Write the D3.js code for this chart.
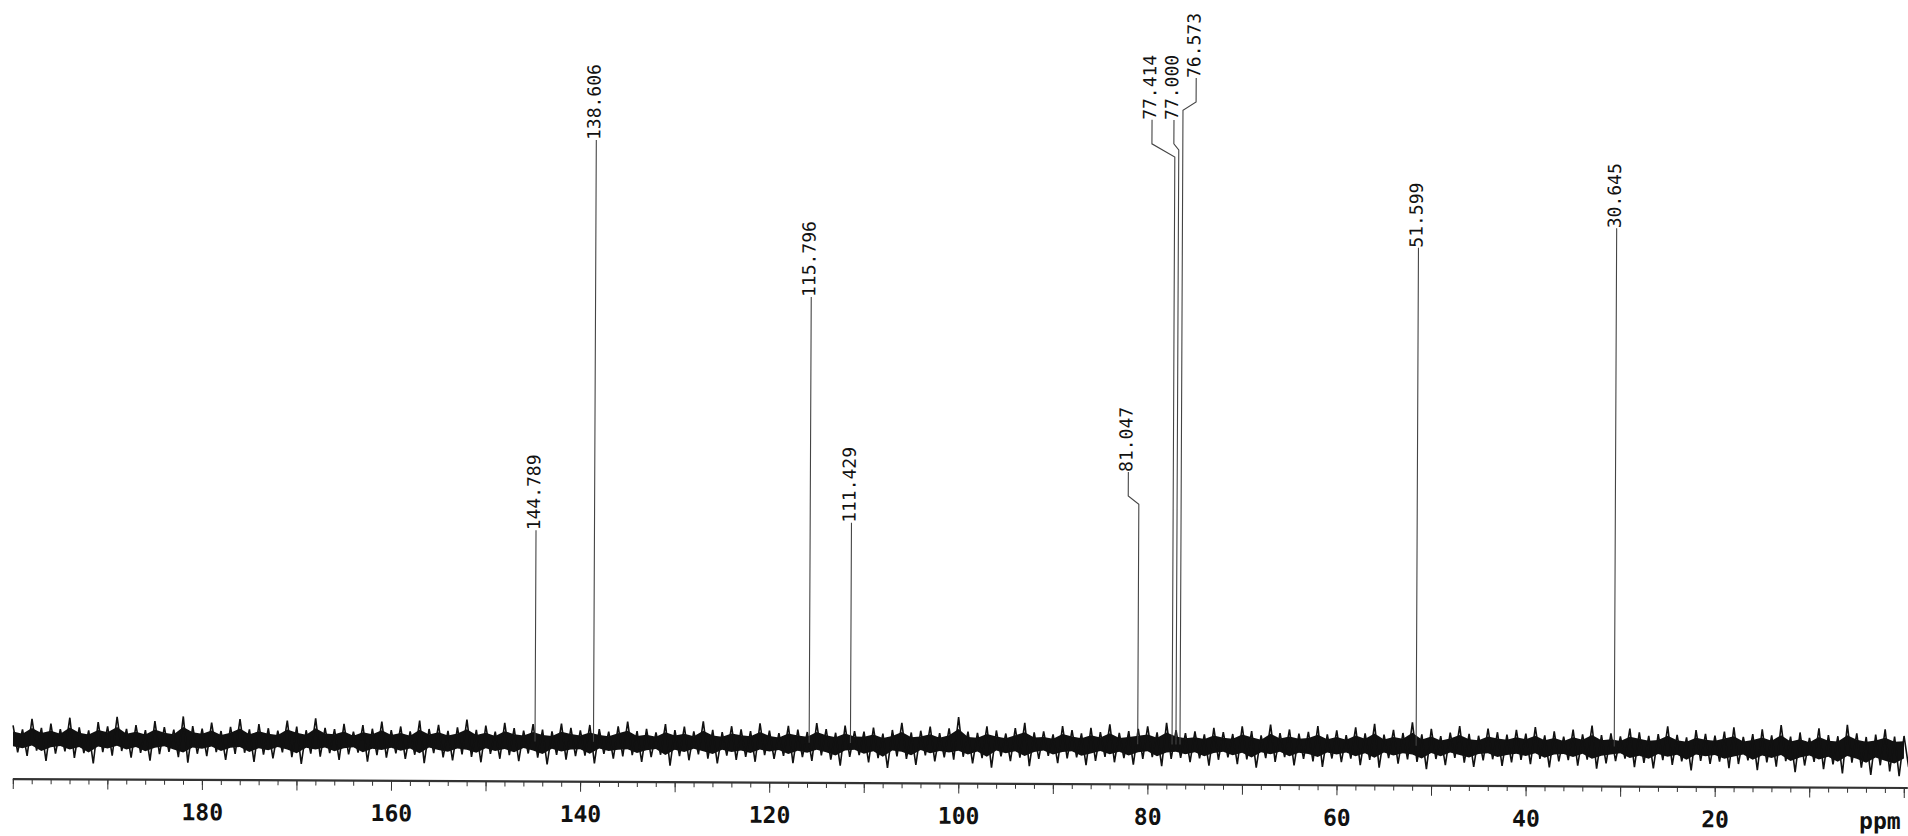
<!DOCTYPE html>
<html>
<head>
<meta charset="utf-8">
<script src="https://cdn.jsdelivr.net/npm/d3@7"></script>
<style>
  body{margin:0;background:#fff;}
  svg{display:block;}
  .peak{fill:none;stroke:#444;stroke-width:1.1;}
  .plabel{font-family:"DejaVu Sans Mono",monospace;font-size:18px;fill:#111;}
  .axis text{font-family:"DejaVu Sans Mono",monospace;font-size:23px;font-weight:bold;fill:#111;}
  .axis path,.axis line{stroke:#333;}
</style>
</head>
<body>
<svg id="chart" width="1908" height="836"></svg>
<script>
// peak list, ppm
let peaks=[144.789,138.606,115.796,111.429,81.047,77.414,77.000,76.573,51.599,30.645];
// peak heights (relative, 138.606 = 100)
let heights=[34.7,100,73.8,36.3,40,97.9,99.1,105.7,82.7,86.3];
// where each label sits (ppm) and its lower end (same relative units)
let labelPpm=[144.789,138.606,115.796,111.429,82.17,79.84,77.52,75.19,51.599,30.645];
let labelBase=[35.2,100.3,74.3,36.7,45.4,104.1,104.1,111.1,83.0,86.4];

let tickLabels=[180,160,140,120,100,80,60,40,20];

// noise envelope, one value per ppm from 200 down to 0
let noiseTop=[
  2.3,1.6,3.4,1.9,2.6,1.7,3.6,2.0,1.5,2.9,2.2,3.8,1.8,2.4,1.6,3.1,2.1,1.7,3.9,2.3,
  1.9,2.9,1.5,2.2,3.5,1.8,2.7,2.0,1.6,3.3,2.3,1.7,3.7,2.1,1.9,2.8,1.5,2.6,2.0,3.2,
  1.8,2.4,1.6,3.4,2.0,2.7,1.7,2.3,3.6,1.9,2.6,1.6,3.1,2.2,1.8,2.9,2.0,1.7,3.0,2.3,
  1.9,2.8,2.1,1.7,2.6,3.4,1.8,2.2,1.6,3.0,2.0,2.6,1.8,3.5,2.1,1.7,2.7,2.2,1.9,3.2,
  2.0,1.6,2.8,2.2,1.8,3.3,2.3,1.7,2.9,2.0,1.9,2.6,1.6,2.2,3.4,1.8,2.1,2.8,1.7,2.5,
  4.4,2.0,1.8,2.9,2.2,1.7,2.6,3.5,1.9,2.1,1.6,3.0,2.3,1.8,2.7,2.0,3.3,1.9,2.2,2.6,
  3.0,2.0,3.6,2.4,1.9,2.2,1.7,2.8,2.1,1.8,3.1,2.3,1.6,3.4,2.0,2.6,1.9,2.2,3.2,1.8,
  2.5,1.7,3.0,2.0,3.6,1.8,2.6,2.1,3.9,1.9,2.8,1.6,2.2,3.3,2.0,1.7,2.9,2.3,1.9,2.7,
  2.1,3.2,1.8,2.5,1.6,2.8,2.0,3.5,1.9,2.2,1.7,3.0,2.4,1.8,2.1,3.4,2.0,1.6,2.8,2.2,
  1.9,2.6,3.3,1.7,2.2,3.0,2.0,3.7,1.8,2.5,1.6,3.2,2.1,1.9,3.8,2.4,1.8,2.2,3.1,1.9,
  2.0];
let noiseBottom=[
  -2.2,-2.8,-1.9,-3.6,-2.4,-2.0,-3.1,-2.3,-4.0,-2.1,-2.7,-1.9,-3.0,-2.2,-3.5,-2.4,-2.0,-2.9,-3.8,-2.3,
  -2.7,-2.0,-3.3,-2.3,-2.1,-3.6,-2.4,-3.0,-2.0,-2.8,-3.9,-2.2,-2.7,-2.1,-3.2,-2.3,-2.0,-3.5,-2.4,-2.8,
  -2.1,-3.0,-2.3,-3.7,-2.0,-2.7,-3.2,-2.2,-2.6,-3.5,-2.1,-2.9,-2.3,-3.3,-2.0,-2.7,-3.8,-2.2,-3.0,-2.4,
  -2.3,-3.6,-2.0,-2.8,-2.4,-2.2,-3.3,-2.5,-2.1,-3.9,-2.3,-3.0,-2.0,-2.7,-3.5,-2.2,-2.9,-2.4,-3.2,-2.1,
  -2.7,-2.2,-3.4,-2.4,-3.0,-2.1,-2.8,-3.8,-2.3,-2.0,-3.2,-2.5,-4.1,-2.2,-2.6,-3.6,-2.0,-3.0,-2.3,-2.7,
  -2.2,-3.3,-2.4,-4.0,-2.1,-2.9,-2.3,-3.7,-2.5,-2.0,-3.2,-2.4,-2.2,-3.5,-2.8,-2.1,-3.0,-2.3,-3.4,-2.4,
  -2.1,-3.6,-2.4,-2.2,-2.9,-2.3,-3.5,-2.5,-2.1,-3.2,-2.4,-3.8,-2.2,-2.8,-2.0,-3.4,-2.3,-2.7,-3.6,-2.2,
  -2.8,-2.2,-3.3,-2.4,-3.7,-2.1,-3.0,-2.3,-2.7,-3.9,-2.2,-3.2,-2.0,-2.8,-3.5,-2.4,-2.2,-3.3,-2.7,-2.3,
  -3.0,-2.1,-3.5,-2.5,-2.3,-3.2,-2.2,-3.7,-2.8,-2.4,-2.0,-3.4,-2.7,-3.6,-2.2,-3.0,-2.4,-3.9,-2.3,-2.8,
  -2.4,-3.5,-2.8,-2.2,-3.8,-2.5,-3.2,-2.3,-4.1,-3.0,-2.4,-3.6,-2.8,-4.3,-2.5,-3.3,-4.5,-2.9,-3.9,-4.7,
  -3.2];
let noisePpm=d3.range(200,-1,-1);

const x=d3.scaleLinear().domain([200,0]).range([13,1904]);
const y=d3.scaleLinear().domain([0,100]).range([739,139]);

const svg=d3.select("#chart");
svg.append("rect").attr("width",1908).attr("height",836).attr("fill","#fff");

// the scanned page is a little skewed
const g=svg.append("g").attr("transform","rotate(0.27,0,740)");

// baseline noise: dark core plus the trace swinging between the envelopes
let noise=noisePpm.map((p,i)=>({p:p,hi:noiseTop[i],lo:noiseBottom[i]}));
g.append("path")
  .datum(noise)
  .attr("fill","#111")
  .attr("d",d3.area().x((d)=>x(d.p)).y0((d)=>y(d.lo*0.55)).y1((d)=>y(d.hi*0.55)));

let trace=[];
noise.forEach((d)=>{
  trace.push([x(d.p),y(d.hi)]);
  trace.push([x(d.p-0.5),y(d.lo)]);
});
g.append("path")
  .attr("fill","none")
  .attr("stroke","#111")
  .attr("stroke-width",1.6)
  .attr("d",d3.line()(trace));

// peaks with their label leaders
const leader=(i)=>{
  let lx=x(labelPpm[i]), px=x(peaks[i]);
  let knee=Math.max(heights[i],labelBase[i]-4);
  return d3.line()([
    [lx,y(labelBase[i])],
    [lx,y(knee)],
    [px,y(heights[i])],
    [px,y(0)]
  ]);
}
g.append("g").selectAll("path")
  .data(peaks)
  .enter()
    .append("path")
    .attr("class","peak")
    .attr("d",(d,i)=>leader(i));

g.append("g").selectAll("text")
  .data(peaks)
  .enter()
    .append("text")
    .attr("class","plabel")
    .attr("transform",(d,i)=>`translate(${x(labelPpm[i])-2.5},${y(labelBase[i])}) rotate(-90)`)
    .attr("dominant-baseline","central")
    .text((d)=>d.toFixed(3));

// axis
const axisY=779;
g.append("g")
  .attr("class","axis")
  .attr("transform",`translate(0,${axisY})`)
  .call(d3.axisBottom(x).tickValues(d3.range(0,201,2)).tickSize(5).tickSizeOuter(0).tickFormat(""))
  .call((a)=>a.select(".domain").attr("stroke-width",2.2).attr("d",`M13,0H1908`));
g.append("g")
  .attr("class","axis")
  .attr("transform",`translate(0,${axisY})`)
  .call(d3.axisBottom(x).tickValues(d3.range(0,201,10)).tickSize(10).tickSizeOuter(0).tickFormat(""))
  .call((a)=>a.select(".domain").remove());
g.append("g")
  .attr("class","axis")
  .attr("transform",`translate(0,${axisY})`)
  .call(d3.axisBottom(x).tickValues(tickLabels).tickSize(0).tickPadding(24).tickFormat(d3.format("d")))
  .call((a)=>a.select(".domain").remove());
g.append("g")
  .attr("class","axis")
  .append("text")
    .attr("x",x(0)-3)
    .attr("y",axisY+41)
    .attr("text-anchor","end")
    .text("ppm");
</script>
</body>
</html>
